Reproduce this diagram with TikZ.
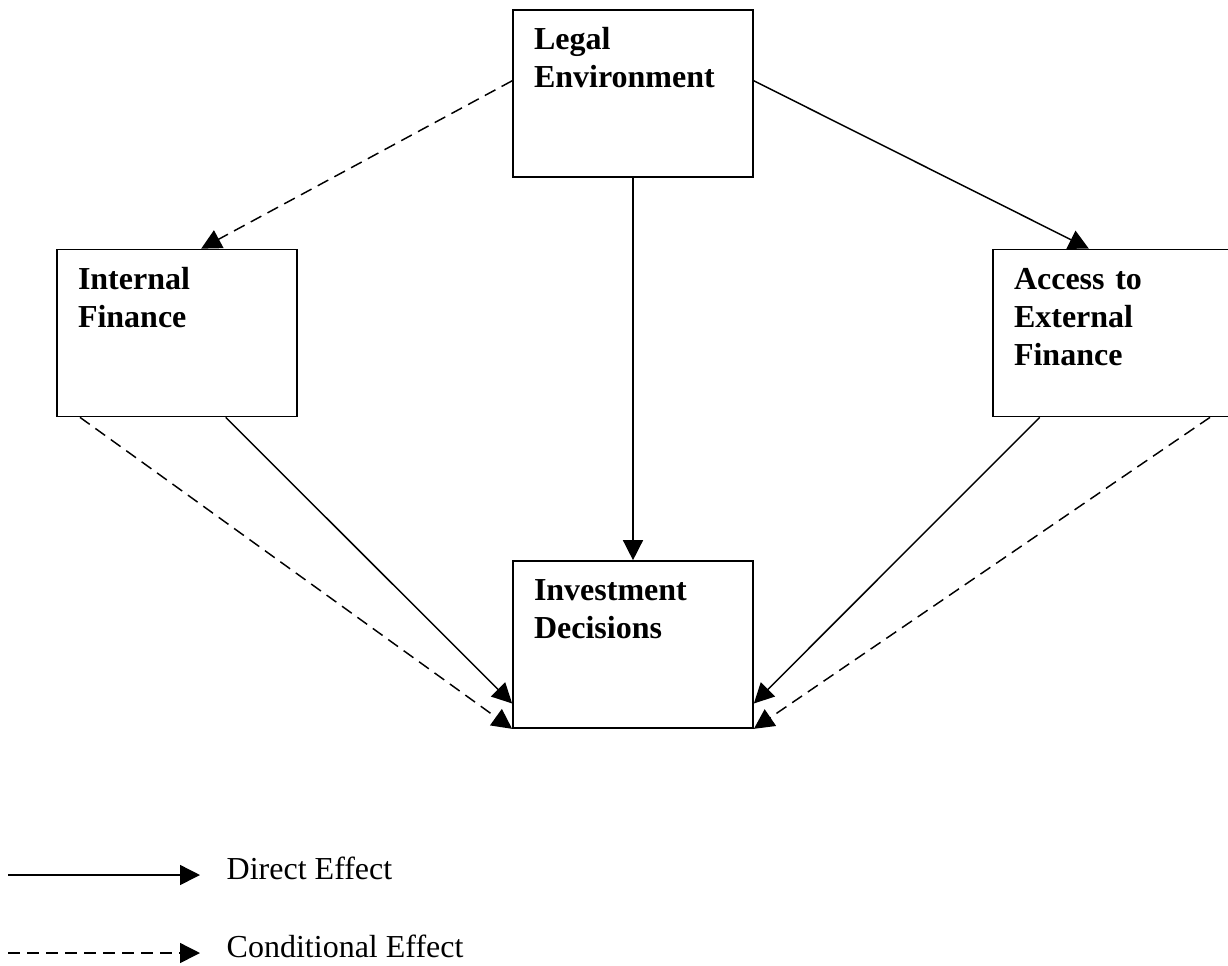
\documentclass[tikz,border=0pt]{standalone}
\usepackage{fontspec}
\setmainfont{Liberation Serif}
\usetikzlibrary{arrows.meta, positioning, calc}
\tikzset{
    effectdiagram/.style={x=0.75pt, y=-0.75pt, >={Triangle[length=15pt, width=15pt]}, line width=1.1pt},
    factor/.style={draw, line width=1.3pt, font=\fontsize{24}{28.5}\selectfont\bfseries, align=left,
        text width=148.5pt, inner xsep=15.75pt, inner ysep=13.6pt, text height=16pt, text depth=82pt},
    direct/.style={->},
    conditional/.style={->, dash pattern=on 9pt off 5.25pt},
    legendtext/.style={font=\fontsize{24}{28.5}\selectfont, inner sep=0pt, anchor=base west},
}

\begin{document}
\begin{tikzpicture}[effectdiagram]
    \useasboundingbox (0,0) rectangle (1228,965);
    \clip (0,0) rectangle (1228,965);

    \node[factor] (legal)    at (633,93.5)  {Legal\\Environment};
    \node[factor] (internal) at (177,333)   {Internal\\Finance};
    \node[factor] (access)   at (1113,333)  {Access to\\External\\Finance};
    \node[factor] (invest)   at (633,644.5) {Investment\\Decisions};

    \draw[conditional] (legal.174) -- (internal.74);
    \draw[direct] (legal.6) -- (access.106);
    \draw[direct] (legal) -- (invest);

    \draw[direct] (internal.-60) -- (invest.206);
    \draw[conditional] (internal.221) -- (invest.south west);
    \draw[direct] (access.-131) -- (invest.334);
    \draw[conditional] (access.-41) -- (invest.south east);

    % legend
    \coordinate (directstart) at (8,875);
    \coordinate (directend)   at (200,875);
    \coordinate (condstart)   at (8,953);
    \coordinate (condend)     at (200,953);
    \node[legendtext] (directlbl) at (226,879) {Direct Effect};
    \node[legendtext] (condlbl)   at (226,957) {Conditional Effect};

    \draw[direct] (directstart) -- (directend);
    \draw[conditional] (condstart) -- (condend);
\end{tikzpicture}
\end{document}
